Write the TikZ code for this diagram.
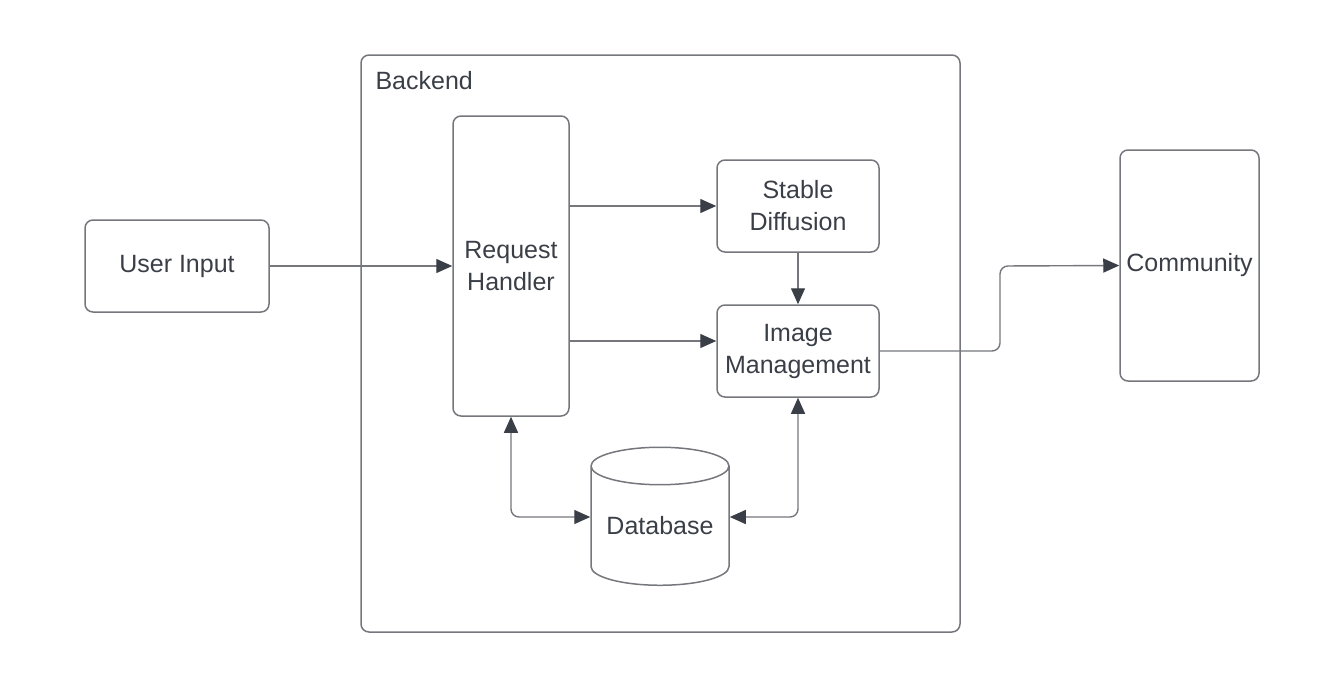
\documentclass[tikz,border=0pt]{standalone}
\usepackage{fontspec}
\setmainfont{Liberation Sans}
\usetikzlibrary{arrows.meta,shapes.geometric}
\definecolor{linegray}{HTML}{75777C}
\definecolor{inkdark}{HTML}{3A3F47}
\tikzstyle{block}=[draw=linegray,line width=1.5pt,rounded corners=8pt,align=center,text=inkdark,font=\fontsize{25}{32}\selectfont,inner sep=0pt]
\tikzstyle{store}=[draw=linegray,line width=1.5pt,cylinder,shape border rotate=90,aspect=0.35,align=center,text=inkdark,font=\fontsize{25}{32}\selectfont,inner sep=0pt]
\tikzstyle{link}=[draw=linegray,line width=1.4pt,rounded corners=8pt,>={Triangle[length=16pt,width=14pt,color=inkdark]}]

\begin{document}
\begin{tikzpicture}[x=1pt,y=-1pt]
\useasboundingbox (0,0) rectangle (1338,686);
\draw[linegray, line width=1.5pt, rounded corners=8pt] (361, 55) rectangle (960, 632);
\node[anchor=west, text=inkdark, font=\fontsize{25}{32}\selectfont] at (372, 81) (backend) {Backend};
\node[block, minimum width=184pt, minimum height=92pt] at (177, 266) (ui) {User Input};
\node[block, minimum width=116pt, minimum height=300pt] at (511, 266) (rh) {Request\\Handler};
\node[block, minimum width=162pt, minimum height=92pt] at (798, 206) (sd) {Stable\\Diffusion};
\node[block, minimum width=162pt, minimum height=92pt] at (798, 351) (im) {Image\\Management};
\node[block, minimum width=139pt, minimum height=231pt] at (1189.5, 265.5) (cm) {Community};
\node[store, minimum width=138pt, minimum height=138pt] at (660, 526) (db) {Database};
\coordinate (jog) at (1000, 266);
\draw[link, ->] (ui) -- (rh);
\draw[link, ->] (rh.east |- sd.west) -- (sd.west);
\draw[link, ->] ([yshift=10pt]rh.east |- im.west) -- ([yshift=10pt]im.west);
\draw[link, ->] (sd) -- (im);
\draw[link, ->] (im.east) -| (jog) -- (cm.west);
\draw[link, <->] (rh.south) |- ([yshift=9pt]db.west);
\draw[link, <->] (im.south) |- ([yshift=9pt]db.east);
\end{tikzpicture}
\end{document}
